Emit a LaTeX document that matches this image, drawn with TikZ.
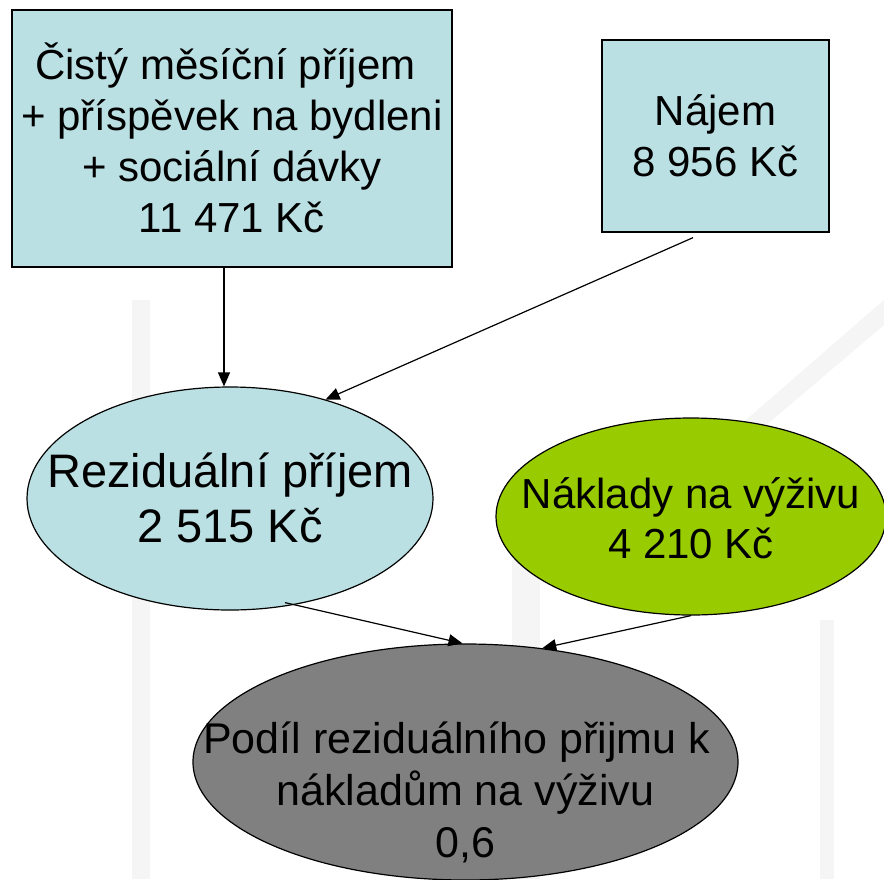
\documentclass[tikz,border=0pt]{standalone}
\usepackage{fontspec}
\setmainfont{Liberation Sans}
\usetikzlibrary{shapes.geometric,arrows.meta}
\definecolor{boxblue}{HTML}{BAE0E3}
\definecolor{nutgreen}{HTML}{99CC00}
\definecolor{sharegray}{HTML}{808080}
\definecolor{bgshade}{HTML}{F5F5F5}
\tikzset{
  rectbox/.style={draw=black, line width=1.3pt, fill=boxblue, rectangle, inner sep=0pt},
  ellbox/.style={draw=black, line width=1.2pt, ellipse, inner sep=0pt},
  txt/.style={align=center, inner sep=0pt, font=\fontsize{42}{51}\selectfont},
  arr/.style={line width=1.2pt, -{Triangle[length=14pt,width=12pt]}}
}
\begin{document}
\begin{tikzpicture}[x=1pt,y=-1pt]
\useasboundingbox (0,0) rectangle (884,879);
\fill[white] (0,0) rectangle (884,879);
% faint background
\fill[bgshade] (132,300) rectangle (150,879);
\fill[bgshade] (512,560) rectangle (540,879);
\fill[bgshade] (820,620) rectangle (834,879);
\fill[bgshade] (884,300) -- (884,325) -- (725,460) -- (700,460) -- cycle;
% shapes
\node[rectbox, minimum width=440pt, minimum height=257pt] (box1) at (232,138.5) {};
\node[rectbox, minimum width=227pt, minimum height=192pt] (box2) at (715.5,136) {};
\node[ellbox, fill=boxblue, minimum width=406pt, minimum height=223pt] (e1) at (230,498.5) {};
\node[ellbox, fill=nutgreen, minimum width=390pt, minimum height=197pt] (e2) at (691,516.5) {};
\node[ellbox, fill=sharegray, minimum width=545pt, minimum height=236pt] (e3) at (465.5,762) {};
% texts
\node[txt] (t1) at (232,138) {Čistý měsíční příjem\hspace*{13pt}\\+ příspěvek na bydleni\hspace*{13pt}\\+ sociální dávky\\11 471 Kč};
\node[txt] (t2) at (715.5,136) {Nájem\\8 956 Kč};
\node[txt, font=\fontsize{47}{55}\selectfont] (t3) at (230,498) {Reziduální příjem\\2 515 Kč};
\node[txt, font=\fontsize{42}{50}\selectfont] (t4) at (691,518) {Náklady na výživu\\4 210 Kč};
\node[txt, font=\fontsize{43}{52}\selectfont] (t5) at (465.5,792) {Podíl reziduálního přijmu k\hspace*{18pt}\\nákladům na výživu\\0,6};
% connectors
\draw[arr] ([xshift=-8pt]box1.south) -- ([xshift=-6pt]e1.north);
\draw[arr] ([xshift=-22.5pt,yshift=-5pt]box2.south) -- (e1.46);
\draw[arr] ([xshift=55pt,yshift=8pt]e1.south) -- ([xshift=-3pt]e3.north);
\draw[arr] (e2.south) -- (e3.56);
\end{tikzpicture}
\end{document}
